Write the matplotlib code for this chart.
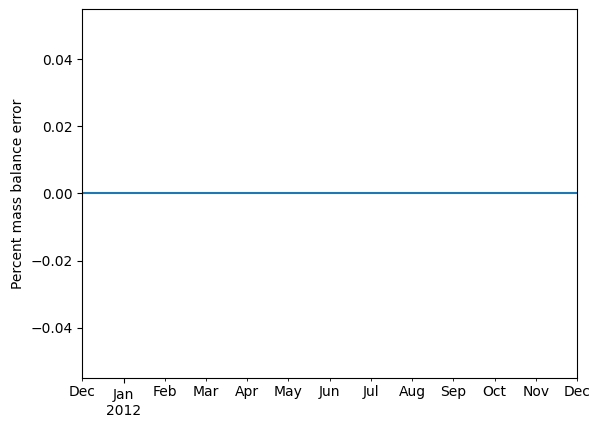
import numpy as np
import pandas as pd
import matplotlib
matplotlib.use("Agg")
import matplotlib.pyplot as plt

# monthly mass balance error, Dec 2011 - Dec 2012 (all zero)
months = pd.date_range("2011-12-01", "2012-12-01", freq="MS")
error_pct = [0.0, 0.0, 0.0, 0.0, 0.0, 0.0, 0.0, 0.0, 0.0, 0.0, 0.0, 0.0, 0.0]

series = pd.Series(error_pct, index=months)

fig, ax = plt.subplots(figsize=(6.01, 4.29), dpi=100)
fig.subplots_adjust(left=0.137, right=0.96, top=0.979, bottom=0.119)

series.plot(ax=ax)
ax.set_ylim(-0.055, 0.055)
ax.set_ylabel("Percent mass balance error")

fig.savefig("out.png", dpi=100)
